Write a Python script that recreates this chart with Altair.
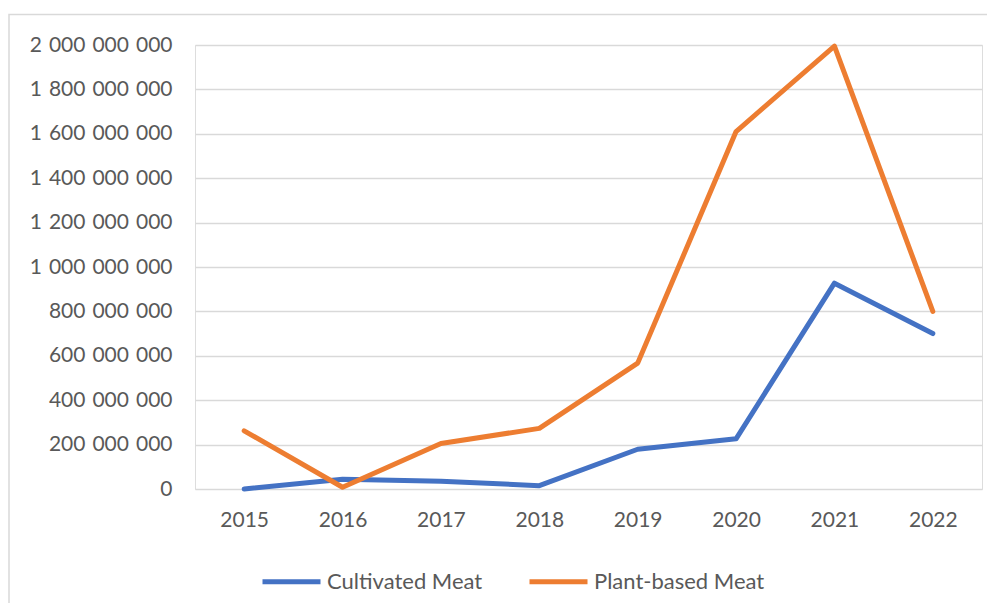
import altair as alt
import pandas as pd

years = ["2015", "2016", "2017", "2018", "2019", "2020", "2021", "2022"]
cultivated = [0, 44e6, 35e6, 15e6, 179e6, 226e6, 927e6, 700e6]
plant_based = [262e6, 8e6, 205e6, 273e6, 567e6, 1610e6, 1995e6, 800e6]
series_names = ["Cultivated Meat", "Plant-based Meat"]
series_colors = ["#4472C4", "#ED7D31"]
y_ticks = [i * 200_000_000 for i in range(11)]

rows = []
for name, vals in zip(series_names, [cultivated, plant_based]):
    for y, v in zip(years, vals):
        rows.append({"Year": y, "Value": v, "Series": name})
df = pd.DataFrame(rows)

FONT = "Lato"
GRAY = "#595959"

lines = alt.Chart(df).mark_line(strokeWidth=5, strokeJoin="round", strokeCap="round").encode(
    x=alt.X("Year:N", sort=years, title=None,
            scale=alt.Scale(type="point", padding=0.5),
            axis=alt.Axis(labelAngle=0, ticks=False, domain=False, grid=False,
                          labelFont=FONT, labelFontSize=21, labelColor=GRAY,
                          labelPadding=20)),
    y=alt.Y("Value:Q", title=None,
            scale=alt.Scale(domain=[0, 2_000_000_000], nice=False),
            axis=alt.Axis(values=y_ticks, ticks=False, domain=False,
                          gridColor="#D9D9D9", gridWidth=1.5,
                          labelFont=FONT, labelFontSize=21, labelColor=GRAY,
                          labelPadding=23,
                          labelExpr="replace(format(datum.value, ','), regexp(',', 'g'), '\u2004')")),
    color=alt.Color("Series:N", sort=series_names,
                    scale=alt.Scale(domain=series_names, range=series_colors),
                    legend=alt.Legend(orient="none", direction="horizontal",
                                      legendX=65, legendY=505, title=None,
                                      symbolType="stroke", symbolSize=3364,
                                      symbolStrokeWidth=5, labelOffset=4,
                                      columnPadding=36, padding=0,
                                      labelLimit=400,
                                      labelFont=FONT, labelFontSize=22,
                                      labelColor=GRAY)),
)

frame = alt.Chart(pd.DataFrame({"k": [0]})).mark_rect(
    fill=None, stroke="#D9D9D9", strokeWidth=1.5
).encode(
    x=alt.value(-186), x2=alt.value(820), y=alt.value(-30.5), y2=alt.value(580)
)

chart = alt.layer(frame, lines).properties(
    width=787, height=444,
    autosize=alt.AutoSizeParams(type="none"),
    padding={"left": 187, "top": 37, "right": 5, "bottom": 114},
).configure_view(stroke=None).configure(background="white")

chart.save("out.html", embed_options={"renderer": "svg", "actions": False})
